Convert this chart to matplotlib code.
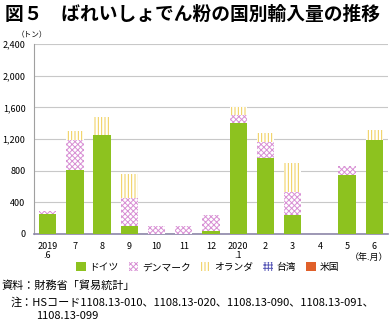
import matplotlib.pyplot as plt
import numpy as np

plt.rcParams['font.family'] = ['Noto Sans CJK JP', 'DejaVu Sans']
plt.rcParams['hatch.linewidth'] = 0.7

months = ['2019\n.6', '7', '8', '9', '10', '11', '12', '2020\n.1', '2', '3', '4', '5', '6']
germany = [255, 810, 1250, 105, 0, 0, 35, 1400, 965, 235, 0, 750, 1190]
denmark = [35, 380, 0, 350, 95, 105, 210, 105, 200, 290, 0, 110, 0]
netherlands = [0, 110, 225, 305, 0, 0, 0, 105, 105, 370, 0, 0, 125]
taiwan = [0] * 13
usa = [0] * 13

fig = plt.figure(figsize=(3.9, 3.29), dpi=100)
ax = fig.add_axes([0.087, 0.289, 0.908, 0.577])

x = np.arange(len(months))
w = 0.64
b = np.zeros(len(months))
ax.bar(x, germany, w, bottom=b, color='#8dc21f', label='ドイツ', zorder=3)
b += germany
ax.bar(x, denmark, w, bottom=b, color='white', edgecolor='#d890d4', hatch='xxxxxx',
       linewidth=0, label='デンマーク', zorder=3)
b += denmark
ax.bar(x, netherlands, w, bottom=b, color='white', edgecolor='#f0cc50', hatch='|||||',
       linewidth=0, label='オランダ', zorder=3)
b += netherlands
ax.bar(x, taiwan, w, bottom=b, color='white', edgecolor='#5a5ab8', hatch='+++++',
       linewidth=0, label='台湾', zorder=3)
b += taiwan
ax.bar(x, usa, w, bottom=b, color='#e0602a', label='米国', zorder=3)

ax.set_xlim(-0.5, 12.5)
ax.set_ylim(0, 2400)
ax.set_yticks(range(0, 2401, 400))
ax.set_yticklabels(['{:,}'.format(v) for v in range(0, 2401, 400)], fontsize=6.5)
ax.set_xticks(x)
ax.set_xticklabels(months, fontsize=6.5, linespacing=1.0)
ax.tick_params(length=0, pad=6)
ax.yaxis.grid(True, color='#c8c8c8', linewidth=0.8, zorder=0)
for s in ['top', 'right']:
    ax.spines[s].set_visible(False)
ax.spines['left'].set_color('#a0a0a0')
ax.spines['bottom'].set_color('#8c86a8')
ax.spines['bottom'].set_linewidth(1.2)

fig.text(0.012, 0.955, '図５　ばれいしょでん粉の国別輸入量の推移', fontsize=13.5,
         weight='bold', va='center')
fig.text(0.043, 0.892, '（トン）', fontsize=5.5, va='center')
fig.text(0.995, 0.218, '（年.月）', fontsize=6.5, ha='right', va='center')

ax.legend(loc='center', bbox_to_anchor=(0.49, -0.175), ncol=5, frameon=False,
          fontsize=7, handlelength=1.0, handleheight=1.0, handletextpad=0.4,
          columnspacing=1.0)

fig.text(0.005, 0.131, '資料：財務省「貿易統計」', fontsize=8, va='center')
fig.text(0.026, 0.082, '注：HSコード1108.13-010、1108.13-020、1108.13-090、1108.13-091、',
         fontsize=8, va='center')
fig.text(0.092, 0.039, '1108.13-099', fontsize=8, va='center')

fig.savefig('out.png', dpi=100)
